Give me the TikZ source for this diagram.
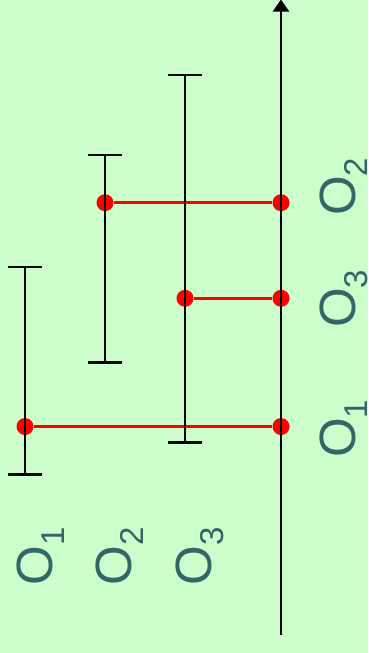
\documentclass[tikz,border=0pt]{standalone}
\usepackage{fontspec}
\setmainfont{Liberation Sans}
\usetikzlibrary{arrows.meta}
\definecolor{bg}{HTML}{CCFFCC}
\definecolor{lbl}{HTML}{336666}
\newcommand\olab[1]{O\kern-0.5pt\raisebox{-12pt}{\fontsize{33}{33}\selectfont #1}}
\begin{document}
\begin{tikzpicture}[x=1pt,y=-1pt,
  blk/.style={line width=2.3pt,black},
  redline/.style={line width=3pt,red},
  dot/.style={circle,fill=red,inner sep=0pt,minimum size=17pt},
  lab/.style={text=lbl,font=\fontsize{51}{51}\selectfont,rotate=90,anchor=base west,inner sep=0pt,outer sep=0pt}]
\fill[bg] (0,0) rectangle (368,653);
\useasboundingbox (0,0) rectangle (368,653);
% dots
\node[dot] (d1) at (25,426.5) {};
\node[dot] (d2) at (105,202.7) {};
\node[dot] (d3) at (185,298.3) {};
\node[dot] (a1) at (281,426.5) {};
\node[dot] (a2) at (281,202.7) {};
\node[dot] (a3) at (281,298.3) {};
% red connectors
\draw[redline] (d1) -- (a1);
\draw[redline] (d2) -- (a2);
\draw[redline] (d3) -- (a3);
% intervals
\coordinate (t1) at (25,267);
\coordinate (b1) at (25,474.5);
\coordinate (t2) at (105,155);
\coordinate (b2) at (105,362.5);
\coordinate (t3) at (185,75);
\coordinate (b3) at (185,442.5);
\foreach \i in {1,2,3}{
  \draw[blk] (t\i) -- (b\i);
  \draw[blk] ([xshift=-17pt]t\i) -- ([xshift=17pt]t\i);
  \draw[blk] ([xshift=-17pt]b\i) -- ([xshift=17pt]b\i);
}
% axis
\coordinate (axb) at (281,635);
\coordinate (axt) at (281,-0.5);
\draw[blk,-{Triangle[width=16pt,length=12pt]}] (axb) -- (axt);
% labels
\node[lab] (l1) at (52,585) {\olab{1}};
\node[lab] (l2) at (131,585) {\olab{2}};
\node[lab] (l3) at (211,585) {\olab{3}};
\node[lab] (r2) at (355,215.5) {\olab{2}};
\node[lab] (r3) at (355,327.5) {\olab{3}};
\node[lab] (r1) at (355,457.5) {\olab{1}};
\end{tikzpicture}
\end{document}
